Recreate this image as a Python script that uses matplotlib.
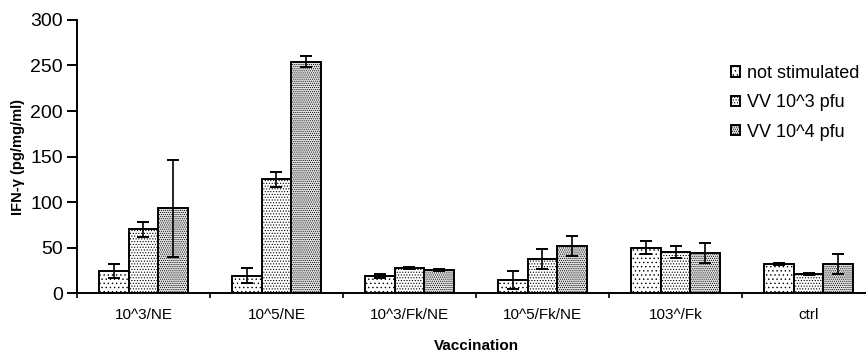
import matplotlib.pyplot as plt
import numpy as np

plt.rcParams['font.family'] = ['Liberation Sans', 'DejaVu Sans']
plt.rcParams['hatch.linewidth'] = 0.5

groups = ["10^3/NE", "10^5/NE", "10^3/Fk/NE", "10^5/Fk/NE", "103^/Fk", "ctrl"]
series = ["not stimulated", "VV 10^3 pfu", "VV 10^4 pfu"]
not_stim = [24, 19, 19, 14, 50, 32]
not_stim_err = [8, 8, 2, 10, 7, 1.5]
vv3 = [70, 125, 27.5, 37, 45, 21]
vv3_err = [8, 8, 1, 11, 7, 1.5]
vv4 = [93, 254, 25, 52, 44, 32]
vv4_err = [53, 6, 1, 11, 11, 11]

values = [not_stim, vv3, vv4]
errors = [not_stim_err, vv3_err, vv4_err]
faces = ["white", "white", "#e2e2e2"]
hatches = ["....", "......", "........"]

fig = plt.figure(figsize=(8.66, 3.59), dpi=100)
ax = fig.add_axes([0.0889, 0.1838, 0.9215, 0.7605])

x = np.arange(len(groups))
w = 0.222
for i in range(3):
    ax.bar(x + (i - 1) * w, values[i], w, yerr=errors[i], color=faces[i],
           edgecolor="black", linewidth=1.4, hatch=hatches[i], label=series[i],
           error_kw=dict(ecolor="black", elinewidth=1.2, capsize=4.3, capthick=1.4))

ax.set_xlim(-0.5, len(groups) - 0.5)
ax.set_ylim(0, 300)
ax.set_yticks(range(0, 301, 50))
ax.set_xticks(x)
ax.set_xticklabels(groups, fontsize=11)
ax.set_xticks(np.arange(-0.5, len(groups), 1), minor=True)
ax.tick_params(axis="x", which="major", length=0, pad=11)
ax.tick_params(axis="x", which="minor", length=3.5, width=1.2)
ax.tick_params(axis="y", labelsize=14, length=7, width=1.4, pad=3)
for s in ["top", "right"]:
    ax.spines[s].set_visible(False)
ax.spines["left"].set_linewidth(1.4)
ax.spines["bottom"].set_linewidth(1.4)

ax.set_ylabel("IFN-γ (pg/mg/ml)", fontsize=10.5, fontweight="bold", labelpad=4)
ax.set_xlabel("Vaccination", fontsize=11, fontweight="bold", labelpad=12)

ax.legend(loc="upper left", bbox_to_anchor=(0.8195, 0.835), frameon=False,
          fontsize=13, handlelength=0.5, handleheight=0.5, handletextpad=0.4,
          labelspacing=0.68, borderpad=0, borderaxespad=0)

fig.savefig("out.png", dpi=100)
